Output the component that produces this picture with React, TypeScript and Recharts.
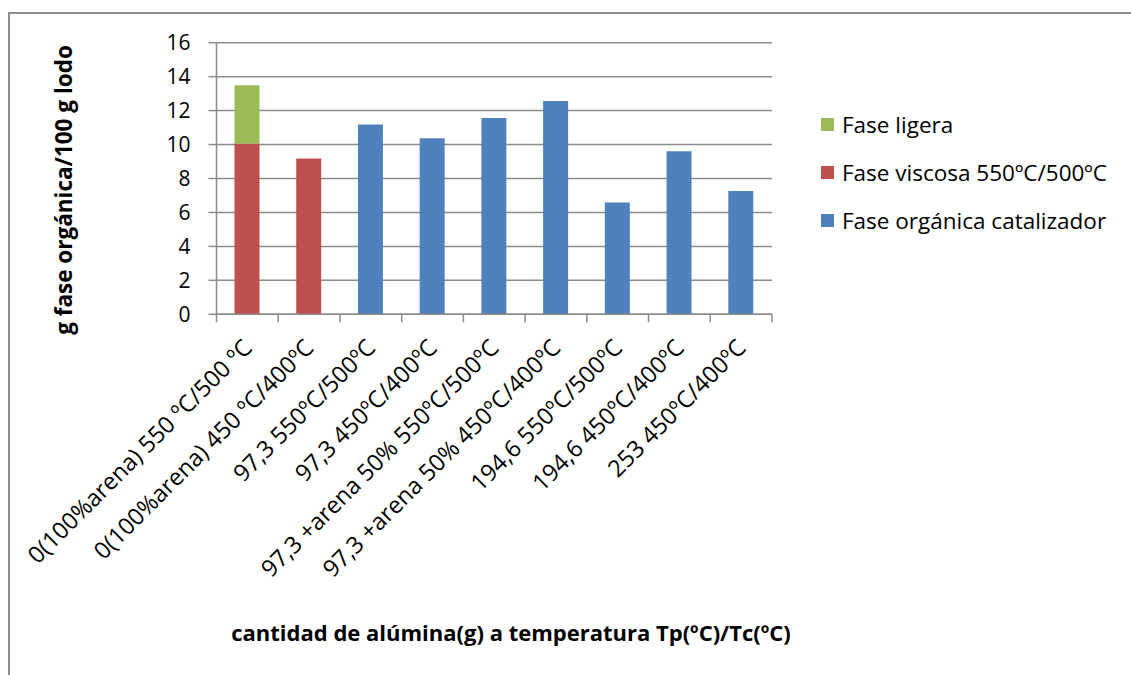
import { BarChart, Bar, XAxis, YAxis, CartesianGrid, Legend, Label } from 'recharts'

const categories = [
  '0(100%arena) 550 ºC/500 ºC',
  '0(100%arena) 450 ºC/400ºC',
  '97,3 550ºC/500ºC',
  '97,3 450ºC/400ºC',
  '97,3 +arena 50% 550ºC/500ºC',
  '97,3 +arena 50% 450ºC/400ºC',
  '194,6 550ºC/500ºC',
  '194,6 450ºC/400ºC',
  '253 450ºC/400ºC',
]

const faseOrganicaCatalizador = [null, null, 11.18, 10.37, 11.57, 12.57, 6.59, 9.6, 7.27]
const faseViscosa = [10.06, 9.18, null, null, null, null, null, null, null]
const faseLigera = [3.43, null, null, null, null, null, null, null, null]

const yTicks = [0, 2, 4, 6, 8, 10, 12, 14, 16]

// legend lists the top of the stack first
const legendOrder = ['Fase ligera', 'Fase viscosa 550ºC/500ºC', 'Fase orgánica catalizador']

const data = categories.map((name, i) => ({
  name,
  catalizador: faseOrganicaCatalizador[i],
  viscosa: faseViscosa[i],
  ligera: faseLigera[i],
}))

const W = 1131
const H = 675
const PLOT_LEFT = 216.5
const PLOT_RIGHT = 772
const PLOT_TOP = 42.7
const PLOT_BOTTOM = 314.3
const X_AXIS_H = 30
const BAND = (PLOT_RIGHT - PLOT_LEFT) / categories.length

const FONT = '"Open Sans", sans-serif'
const GRID = '#8c8c8c'

function CategoryTick(props: any) {
  const { x, y, payload, index } = props
  const half = BAND / 2
  return (
    <g>
      <line x1={x - half} x2={x - half} y1={y} y2={y + 8} stroke={GRID} strokeWidth={1.5} />
      {index === categories.length - 1 && (
        <line x1={x + half} x2={x + half} y1={y} y2={y + 8} stroke={GRID} strokeWidth={1.5} />
      )}
      <text
        transform={`translate(${x + 6},${y + 35}) rotate(-45)`}
        textAnchor="end"
        fontFamily={FONT}
        fontSize={23.5}
        fill="#000"
      >
        {payload.value}
      </text>
    </g>
  )
}

function LegendList(props: any) {
  const items = legendOrder
    .map((name) => (props.payload || []).find((p: any) => p.value === name))
    .filter(Boolean)
  return (
    <div style={{ fontFamily: FONT, fontSize: 22.5, color: '#000' }}>
      {items.map((it: any) => (
        <div key={it.value} style={{ display: 'flex', alignItems: 'center', height: 48 }}>
          <span style={{ width: 13, height: 13, background: it.color, marginRight: 8, display: 'inline-block' }} />
          <span>{it.value}</span>
        </div>
      ))}
    </div>
  )
}

export default function App() {
  return (
    <div style={{ position: 'relative', width: W, height: H, background: '#fff' }}>
      <style>{'body{margin:0}'}</style>
      <div
        style={{
          position: 'absolute',
          left: 8,
          top: 12,
          width: W - 8,
          height: H - 12,
          borderTop: `2px solid ${GRID}`,
          borderLeft: `2px solid ${GRID}`,
          boxSizing: 'border-box',
        }}
      />
      <div style={{ position: 'absolute', left: 0, top: 0 }}>
        <BarChart
          width={W}
          height={H}
          data={data}
          barSize={25}
          margin={{ top: PLOT_TOP, right: W - PLOT_RIGHT, bottom: H - PLOT_BOTTOM - X_AXIS_H, left: 0 }}
        >
          <CartesianGrid vertical={false} stroke={GRID} strokeWidth={1.5} />
          <XAxis
            dataKey="name"
            height={X_AXIS_H}
            interval={0}
            tickLine={false}
            tickSize={0}
            tickMargin={0}
            axisLine={{ stroke: GRID, strokeWidth: 1.5 }}
            tick={<CategoryTick />}
          >
            <Label
              content={() => (
                <text
                  x={511}
                  y={641}
                  textAnchor="middle"
                  fontFamily={FONT}
                  fontWeight="bold"
                  fontSize={22}
                  fill="#000"
                >
                  cantidad de alúmina(g) a temperatura Tp(ºC)/Tc(ºC)
                </text>
              )}
            />
          </XAxis>
          <YAxis
            width={PLOT_LEFT}
            domain={[0, 16]}
            ticks={yTicks}
            interval={0}
            tickSize={8}
            tickMargin={18}
            axisLine={{ stroke: GRID, strokeWidth: 1.5 }}
            tickLine={{ stroke: GRID, strokeWidth: 1.5 }}
            tick={{ fill: '#000', fontSize: 21, fontFamily: FONT }}
          >
            <Label
              content={() => (
                <text
                  transform="translate(72,190) rotate(-90)"
                  textAnchor="middle"
                  fontFamily={FONT}
                  fontWeight="bold"
                  fontSize={22.5}
                  fill="#000"
                >
                  g fase orgánica/100 g lodo
                </text>
              )}
            />
          </YAxis>
          <Legend
            layout="vertical"
            align="center"
            verticalAlign="middle"
            wrapperStyle={{ left: 821, top: 100, width: 310 }}
            content={<LegendList />}
          />
          <Bar dataKey="catalizador" name="Fase orgánica catalizador" stackId="a" fill="#4F81BD" isAnimationActive={false} />
          <Bar dataKey="viscosa" name="Fase viscosa 550ºC/500ºC" stackId="a" fill="#C0504D" isAnimationActive={false} />
          <Bar dataKey="ligera" name="Fase ligera" stackId="a" fill="#9BBB59" isAnimationActive={false} />
        </BarChart>
      </div>
    </div>
  )
}
